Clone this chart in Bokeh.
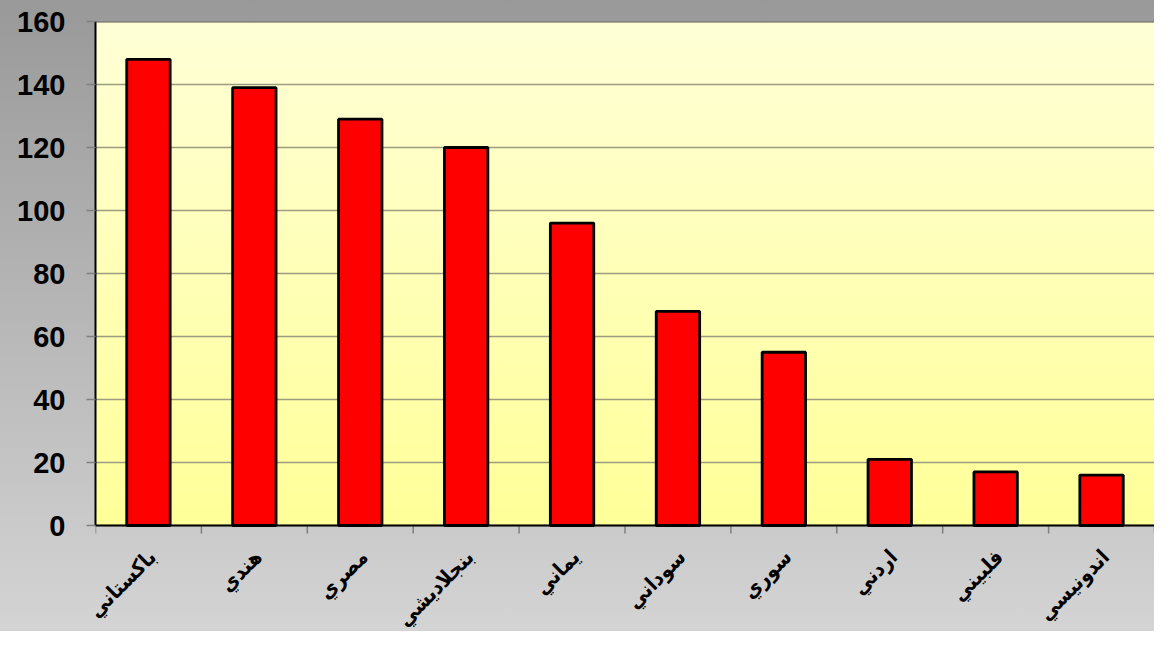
import numpy as np
from bokeh.plotting import figure
from bokeh.models import Range1d, FixedTicker, ColumnDataSource, Span
from bokeh.core.properties import value
from bokeh.embed import file_html
from bokeh.resources import INLINE

# ---- data ----
names = ["باكستاني", "هندي", "مصري", "بنجلاديشي", "يماني",
         "سوداني", "سوري", "اردني", "فلبيني", "اندونيسي"]
values = [148, 139, 129, 120, 96, 68, 55, 21, 17, 16]
y_ticks = [0, 20, 40, 60, 80, 100, 120, 140, 160]

centers = [i + 0.5 for i in range(len(names))]
bounds = list(range(len(names) + 1))

W, H = 1154, 631
TOP, AXIS_Y = 21, 525          # pixel rows of value 160 and value 0
px_per_unit = (AXIS_Y - TOP) / 160.0
y_min = -(H - AXIS_Y) / px_per_unit   # room below the axis for the names

p = figure(width=W, height=H, output_backend="svg", toolbar_location=None,
           x_range=Range1d(0, len(names)), y_range=Range1d(y_min, 160),
           x_axis_location=None,
           min_border_left=95, min_border_right=0, min_border_top=TOP,
           min_border_bottom=0)
p.styles = {"background": "linear-gradient(to bottom, #999999 0%, #d4d4d4 100%)"}
p.border_fill_color = None
p.background_fill_color = None
p.outline_line_color = None

# plot area gradient (light yellow top -> yellow bottom)
n = 256
t = np.linspace(0, 1, n)
img = np.empty((n, 1), dtype=np.uint32)
view = img.view(dtype=np.uint8).reshape((n, 1, 4))
view[:, 0, 0] = 255
view[:, 0, 1] = 255
view[:, 0, 2] = (153 + (215 - 153) * t).astype(np.uint8)
view[:, 0, 3] = 255
p.image_rgba(image=[img], x=0, y=0, dw=len(names), dh=160, level="image")

# grid
p.xgrid.grid_line_color = None
p.ygrid.ticker = FixedTicker(ticks=y_ticks)
p.ygrid.grid_line_color = "#9c9c80"
p.ygrid.grid_line_width = 1.5

# top border of the plot area and the category axis line
p.add_layout(Span(location=160, dimension="width",
                  line_color="#555555", line_width=2))
p.add_layout(Span(location=0, dimension="width",
                  line_color="black", line_width=2))

# category boundary ticks below the axis
p.segment(x0=bounds, x1=bounds, y0=[0] * len(bounds),
          y1=[-8 / px_per_unit] * len(bounds),
          line_color="#808080", line_width=1.5)

# bars
src = ColumnDataSource(dict(x=centers, top=values, name=names,
                            ly=[-28 / px_per_unit] * len(names)))
p.vbar(x="x", top="top", bottom=0, width=0.41, source=src,
       fill_color="#FF0000", line_color="black", line_width=2.8)

# category names, rotated, below the axis
p.text(x="x", y="ly", text="name", source=src,
       angle=np.pi / 4, x_offset=4,
       text_align="right", text_baseline="middle",
       text_font=value("DejaVu Sans Condensed"), text_font_size="21px",
       text_font_style="bold", text_color="black")

# y axis
ya = p.yaxis[0]
ya.bounds = (0, 160)
ya.ticker = FixedTicker(ticks=y_ticks)
ya.major_tick_out = 9
ya.major_tick_in = 0
ya.major_tick_line_color = "#808080"
ya.major_tick_line_width = 1.5
ya.minor_tick_line_color = None
ya.axis_line_color = "black"
ya.axis_line_width = 2
ya.major_label_standoff = 21
ya.major_label_text_font = "Liberation Sans"
ya.major_label_text_font_size = "29px"
ya.major_label_text_font_style = "bold"
ya.major_label_text_color = "black"

open("out.html", "w").write(file_html(p, INLINE))
